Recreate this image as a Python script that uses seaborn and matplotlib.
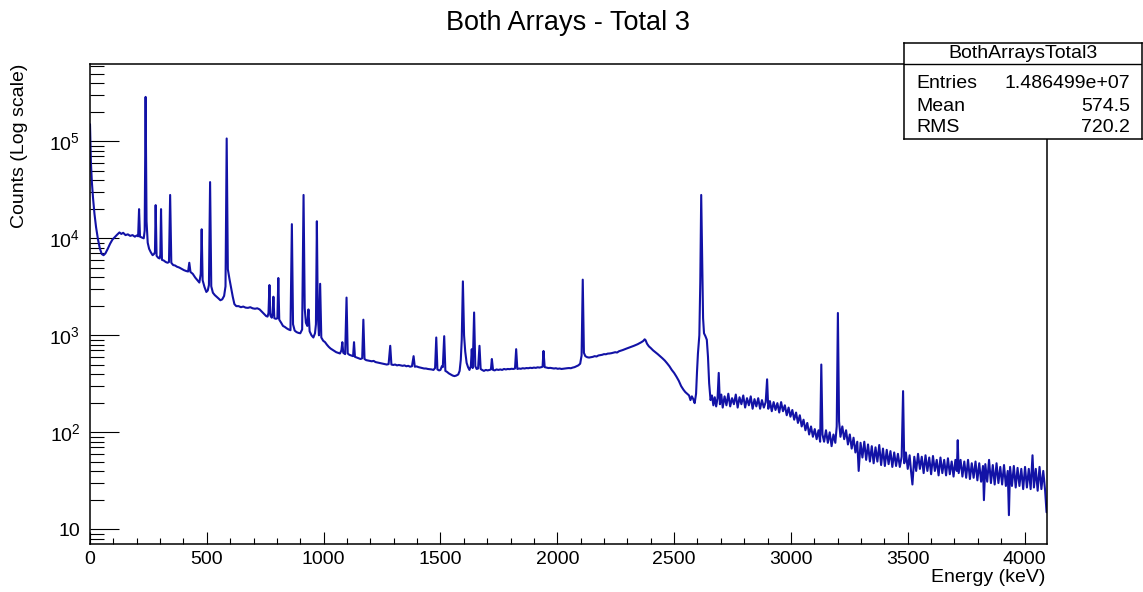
import numpy as np
import pandas as pd
import matplotlib
matplotlib.use("Agg")
import matplotlib.pyplot as plt
import seaborn as sns
from matplotlib.ticker import LogLocator, MultipleLocator, NullFormatter

# ---- spectrum values: (energy keV, counts) ----
low_region = [
    (0, 150000), (4, 60000), (8, 38000), (13, 26000), (19, 18000), (26, 13000), (34, 9800),
    (42, 7900), (50, 6900), (58, 6700), (66, 7000), (76, 7800), (86, 8800), (96, 9700),
    (106, 10300), (116, 10900), (126, 11500), (134, 11100), (142, 11400), (152, 10800),
    (162, 11000), (172, 10600), (182, 10800), (192, 10400), (200, 10700), (206, 10500),
    (210, 20000), (214, 10400), (222, 10200), (230, 10000), (234, 12000), (238, 287000),
    (242, 15000), (247, 9000), (253, 7800), (260, 7200), (268, 6700), (274, 6900), (278, 7200),
    (281, 22000), (285, 6600), (292, 6300), (298, 6200), (301, 6800), (304, 20000), (308, 6000),
    (316, 5900), (324, 5700), (332, 5600), (338, 5700), (343, 28000), (348, 5600), (356, 5300),
    (364, 5250), (372, 5100), (382, 5000), (392, 4850), (402, 4700), (412, 4600), (420, 4550),
    (425, 5600), (430, 4500), (440, 4300), (450, 3950), (460, 3700), (468, 3500), (474, 4300),
    (478, 12400), (482, 3700), (490, 3150), (498, 2800), (504, 2900), (509, 3300), (514, 38000),
    (519, 3200), (526, 2750), (534, 2600), (542, 2500), (550, 2400), (558, 2300), (566, 2350),
    (574, 2550), (580, 3200), (585, 107000), (590, 4800), (597, 3800), (604, 3100), (611, 2500),
    (618, 2100),
]

mid_region = [
    (626, 2000), (636, 2000), (646, 1950), (656, 1980), (666, 1930), (676, 1920), (686, 1950),
    (696, 1900), (706, 1880), (716, 1900), (726, 1850), (736, 1750), (746, 1650), (754, 1580),
    (760, 1560), (764, 1700), (768, 3300), (772, 1600), (778, 1520), (782, 1700), (785, 2500),
    (789, 1500), (796, 1480), (802, 1500), (806, 3900), (810, 1450), (818, 1350), (826, 1250),
    (834, 1220), (842, 1180), (850, 1150), (858, 1130), (864, 14000), (869, 1300), (876, 1120),
    (884, 1080), (892, 1060), (900, 1050), (908, 1150), (914, 28000), (919, 1900), (924, 1350),
    (930, 1250), (935, 1850), (940, 1100), (948, 1000), (956, 950), (963, 1050), (967, 1300),
    (971, 15000), (975, 1600), (980, 1000), (985, 3400), (990, 950), (998, 880), (1006, 850),
    (1014, 800), (1022, 760), (1030, 730), (1038, 710), (1046, 690), (1054, 670), (1062, 660),
    (1070, 650), (1076, 700), (1080, 850), (1084, 660), (1092, 640), (1098, 2450), (1103, 650),
    (1110, 630), (1118, 620), (1126, 610), (1130, 850), (1134, 600), (1142, 590), (1150, 580),
    (1158, 570), (1165, 580), (1170, 1450), (1175, 570), (1182, 555), (1190, 550), (1198, 545),
    (1206, 540), (1214, 545), (1222, 530), (1230, 525), (1238, 520), (1246, 515), (1254, 510),
    (1262, 505), (1270, 500), (1278, 505), (1285, 780), (1290, 500), (1298, 495), (1306, 500),
    (1314, 490), (1322, 495), (1330, 490), (1338, 485), (1346, 490), (1354, 480), (1362, 485),
    (1370, 475), (1378, 480), (1385, 610), (1390, 475), (1398, 478), (1406, 470), (1414, 465),
    (1422, 460), (1430, 455), (1438, 455), (1446, 450), (1454, 448), (1462, 445), (1470, 440),
    (1477, 460), (1482, 950), (1487, 445), (1494, 435), (1500, 440), (1506, 480), (1510, 470),
    (1516, 980), (1521, 430), (1528, 420), (1536, 405), (1544, 395), (1552, 385), (1560, 380),
    (1568, 385), (1576, 395), (1582, 430), (1587, 560), (1591, 900), (1596, 3600), (1601, 1000),
    (1606, 680), (1612, 520), (1618, 470), (1624, 440), (1630, 480), (1634, 720), (1638, 460),
    (1644, 1720), (1649, 480), (1655, 450), (1661, 455), (1667, 780), (1672, 450), (1678, 440),
    (1686, 430), (1694, 440), (1702, 435), (1710, 440), (1716, 445), (1720, 570), (1725, 440),
    (1732, 435), (1740, 445), (1748, 440), (1756, 445), (1764, 440), (1772, 450), (1780, 445),
    (1788, 450), (1796, 448), (1804, 452), (1812, 450), (1819, 455), (1824, 720), (1829, 450),
    (1836, 455), (1844, 452), (1852, 458), (1860, 455), (1868, 460), (1876, 458), (1884, 463),
    (1892, 460), (1900, 465), (1908, 462), (1916, 468), (1924, 465), (1932, 470), (1937, 475),
    (1941, 690), (1946, 470), (1954, 465), (1962, 460), (1970, 462), (1978, 458), (1986, 455),
    (1994, 458), (2002, 452), (2010, 455), (2018, 450), (2026, 453), (2034, 455), (2042, 458),
    (2050, 460), (2058, 458), (2066, 465), (2074, 470), (2082, 480), (2090, 490), (2098, 510),
    (2104, 620), (2109, 3750), (2114, 660),
]

edge_region = [
    (2120, 610), (2128, 595), (2136, 590), (2144, 595), (2152, 600), (2160, 610), (2168, 605),
    (2176, 620), (2184, 625), (2192, 630), (2200, 640), (2208, 638), (2216, 648), (2224, 650),
    (2232, 655), (2240, 662), (2248, 670), (2256, 665), (2264, 685), (2272, 695), (2280, 705),
    (2288, 718), (2296, 730), (2304, 742), (2312, 755), (2320, 765), (2328, 780), (2336, 795),
    (2344, 810), (2352, 830), (2360, 850), (2368, 875), (2374, 910), (2378, 890), (2384, 820),
    (2392, 770), (2400, 740), (2410, 700), (2420, 670), (2430, 640), (2440, 610), (2450, 580),
    (2460, 550), (2470, 515), (2480, 480), (2490, 440), (2500, 410), (2510, 375), (2520, 340),
    (2530, 300), (2540, 275), (2548, 260), (2556, 250), (2564, 240), (2570, 215), (2576, 235),
    (2582, 220), (2588, 200), (2594, 250), (2598, 420), (2602, 650), (2608, 1000), (2612, 3500),
    (2616, 28000), (2620, 6000), (2624, 1500), (2628, 1050), (2634, 980), (2640, 900),
    (2645, 600), (2650, 320),
]

high_region = [
    (2656, 215), (2662, 240), (2668, 190), (2674, 230), (2680, 185), (2686, 225), (2691, 410),
    (2696, 195), (2702, 245), (2708, 180), (2716, 235), (2724, 190), (2732, 250), (2740, 185),
    (2748, 225), (2756, 195), (2764, 245), (2772, 180), (2780, 230), (2788, 195), (2796, 240),
    (2804, 180), (2812, 225), (2820, 190), (2828, 235), (2836, 175), (2844, 220), (2852, 185),
    (2860, 225), (2868, 175), (2876, 215), (2884, 180), (2892, 205), (2898, 352), (2903, 175),
    (2910, 210), (2918, 165), (2926, 205), (2934, 170), (2942, 200), (2950, 160), (2958, 205),
    (2966, 165), (2974, 190), (2982, 150), (2990, 180), (2998, 145), (3006, 170), (3014, 135),
    (3022, 160), (3030, 125), (3038, 150), (3046, 115), (3054, 135), (3062, 105), (3070, 125),
    (3078, 95), (3086, 115), (3094, 90), (3102, 108), (3110, 85), (3118, 105), (3125, 80),
    (3130, 500), (3135, 95), (3142, 80), (3150, 105), (3158, 78), (3166, 100), (3174, 72),
    (3182, 95), (3190, 78), (3196, 115), (3201, 1700), (3206, 130), (3212, 90), (3220, 115),
    (3228, 85), (3236, 105), (3244, 75), (3252, 95), (3260, 68), (3268, 88), (3276, 62),
    (3284, 80), (3290, 40), (3298, 78), (3306, 55), (3314, 80), (3322, 52), (3330, 75),
    (3338, 50), (3346, 72), (3354, 48), (3362, 70), (3370, 50), (3378, 74), (3386, 46),
    (3394, 68), (3402, 45), (3410, 66), (3418, 47), (3426, 64), (3434, 44), (3442, 62),
    (3450, 45), (3458, 60), (3466, 44), (3474, 56), (3480, 266), (3485, 48), (3492, 62),
    (3500, 42), (3508, 58), (3514, 40), (3520, 29), (3528, 56), (3536, 40), (3544, 60),
    (3552, 42), (3560, 56), (3568, 38), (3576, 58), (3584, 40), (3592, 55), (3600, 37),
    (3608, 57), (3616, 40), (3624, 52), (3632, 36), (3640, 55), (3648, 38), (3656, 52),
    (3664, 36), (3672, 54), (3680, 37), (3688, 50), (3696, 35), (3704, 52), (3710, 40),
    (3714, 83), (3718, 38), (3726, 52), (3734, 35), (3742, 50), (3750, 34), (3758, 52),
    (3766, 33), (3774, 48), (3782, 34), (3790, 50), (3798, 32), (3806, 48), (3814, 31),
    (3822, 45), (3826, 20), (3832, 47), (3840, 31), (3848, 52), (3856, 30), (3864, 46),
    (3872, 29), (3880, 48), (3888, 30), (3896, 44), (3904, 29), (3912, 46), (3920, 28),
    (3928, 40), (3933, 14), (3938, 44), (3946, 28), (3954, 45), (3962, 27), (3970, 43),
    (3978, 28), (3986, 42), (3994, 26), (4002, 44), (4010, 27), (4018, 42), (4026, 26),
    (4034, 58), (4040, 27), (4048, 42), (4056, 25), (4064, 44), (4072, 26), (4080, 40),
    (4088, 25), (4094, 15),
]

x_ticks = [0, 500, 1000, 1500, 2000, 2500, 3000, 3500, 4000]
y_ticks = [10, 100, 1000, 10000, 100000]
y_tick_labels = ["10", r"$10^{2}$", r"$10^{3}$", r"$10^{4}$", r"$10^{5}$"]

title = "Both Arrays - Total 3"
x_title = "Energy (keV)"
y_title = "Counts (Log scale)"
stats_title = "BothArraysTotal3"
stats_labels = ["Entries", "Mean", "RMS"]
stats_values = ["1.486499e+07", "574.5", "720.2"]

# ---- build table ----
rows = low_region + mid_region + edge_region + high_region
df = pd.DataFrame(rows, columns=["energy", "counts"])

sns.set_theme(style="white")
plt.rcParams["font.family"] = ["Liberation Sans", "DejaVu Sans"]
plt.rcParams["mathtext.default"] = "regular"
plt.rcParams["text.color"] = "black"
plt.rcParams["xtick.color"] = "black"
plt.rcParams["ytick.color"] = "black"

W, H = 1143, 592
fig = plt.figure(figsize=(W / 100, H / 100), dpi=100)
fig.patch.set_facecolor("white")

ax_l, ax_r, ax_t, ax_b = 90, 1047, 64, 544
ax = fig.add_axes([ax_l / W, 1 - ax_b / H, (ax_r - ax_l) / W, (ax_b - ax_t) / H])

sns.lineplot(data=df, x="energy", y="counts", ax=ax, color="#1212a6",
             linewidth=1.5, estimator=None, errorbar=None)

ax.set_yscale("log")
ax.set_xlim(0, 4096)
ax.set_ylim(7.06, 6.27e5)

ax.set_xticks(x_ticks)
ax.set_xticklabels([str(t) for t in x_ticks])
ax.xaxis.set_minor_locator(MultipleLocator(100))
ax.set_yticks(y_ticks)
ax.set_yticklabels(y_tick_labels)
ax.yaxis.set_minor_locator(LogLocator(base=10, subs=np.arange(2, 10)))
ax.yaxis.set_minor_formatter(NullFormatter())

ax.tick_params(axis="x", which="major", direction="in", length=8.6, width=0.8,
               labelsize=14, pad=5, top=False, bottom=True)
ax.tick_params(axis="x", which="minor", direction="in", length=4.3, width=0.8,
               top=False, bottom=True)
ax.tick_params(axis="y", which="major", direction="in", length=21, width=0.8,
               labelsize=14, pad=7, left=True, right=False)
ax.tick_params(axis="y", which="minor", direction="in", length=10, width=0.8,
               left=True, right=False)

for s in ax.spines.values():
    s.set_color("black")
    s.set_linewidth(1.1)
    s.set_visible(True)

ax.set_xlabel("")
ax.set_ylabel("")
ax.grid(False)

fig.text(1045 / W, 1 - 578 / H, x_title, ha="right", va="center", fontsize=14)
fig.text(20 / W, 1 - 64 / H, y_title, ha="center", va="top", rotation=90, fontsize=14)
fig.text(568 / W, 1 - 23 / H, title, ha="center", va="center", fontsize=19.5)

# ---- statistics box ----
bx_l, bx_r, bx_t, bx_b = 904, 1142, 43, 139
bax = fig.add_axes([bx_l / W, 1 - bx_b / H, (bx_r - bx_l) / W, (bx_b - bx_t) / H])
bax.set_facecolor("white")
bax.set_xticks([])
bax.set_yticks([])
bax.set_xlim(0, 1)
bax.set_ylim(0, 1)
for s in bax.spines.values():
    s.set_color("black")
    s.set_linewidth(1.1)
    s.set_visible(True)
sep = (bx_b - 63.5) / (bx_b - bx_t)
bax.axhline(sep, color="black", linewidth=1.0)
bax.text(0.5, (bx_b - 53) / (bx_b - bx_t), stats_title, ha="center", va="center", fontsize=14)
row_y = [84, 106.5, 128]
for lab, val, yy in zip(stats_labels, stats_values, row_y):
    yf = (bx_b - yy) / (bx_b - bx_t)
    bax.text(0.05, yf, lab, ha="left", va="center", fontsize=14)
    bax.text(0.95, yf, val, ha="right", va="center", fontsize=14)

fig.savefig("out.png", dpi=100, facecolor="white")
